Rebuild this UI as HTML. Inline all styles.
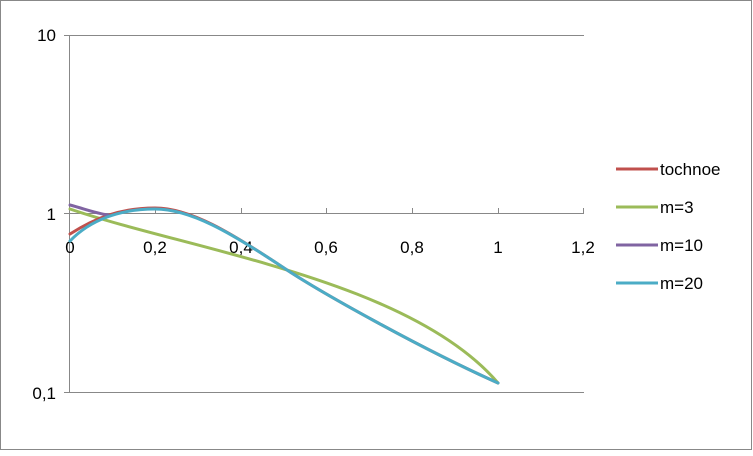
<!DOCTYPE html>
<html><head><style>body{margin:0;background:#fff}</style></head><body>
<svg width="753" height="451" xmlns="http://www.w3.org/2000/svg" font-family="Liberation Sans, sans-serif" font-size="16">
<rect x="0.5" y="0.5" width="751" height="449" fill="#fff" stroke="#888" stroke-width="1"/>
<g stroke="#888" stroke-width="1">
<line x1="70" y1="35.5" x2="584" y2="35.5"/>
<line x1="70" y1="392.5" x2="584" y2="392.5"/>
<line x1="69.5" y1="35" x2="69.5" y2="393"/>
<line x1="64" y1="35.5" x2="70" y2="35.5"/>
<line x1="64" y1="392.5" x2="70" y2="392.5"/>
<line x1="64" y1="213.5" x2="584" y2="213.5"/>
<line x1="155.5" y1="208" x2="155.5" y2="214"/>
<line x1="241.5" y1="208" x2="241.5" y2="214"/>
<line x1="326.5" y1="208" x2="326.5" y2="214"/>
<line x1="412.5" y1="208" x2="412.5" y2="214"/>
<line x1="498.5" y1="208" x2="498.5" y2="214"/>
<line x1="583.5" y1="208" x2="583.5" y2="214"/>
</g>
<g fill="#000" text-anchor="end" font-size="17">
<text x="56" y="41">10</text>
<text x="56" y="220">1</text>
<text x="56" y="399">0,1</text>
</g>
<g fill="#000" text-anchor="middle" font-size="17">
<text x="70" y="253">0</text>
<text x="155" y="253">0,2</text>
<text x="241" y="253">0,4</text>
<text x="326" y="253">0,6</text>
<text x="412" y="253">0,8</text>
<text x="498" y="253">1</text>
<text x="583" y="253">1,2</text>
</g>
<g fill="none" stroke-width="3" stroke-linecap="round" stroke-linejoin="round">
<path stroke="#9bbb59" d="M70,209 C190,250 410,280 498,383"/>
<path stroke="#c0504d" d="M70,234 C95,218 120,208 155,208 C190,208 230,232 284,268 C320,292 420,348 498,383"/>
<path stroke="#8064a2" d="M70,205 C85,209 95,213 108,215"/>
<path stroke="#4bacc6" d="M70,241 C90,220 120,209 155,209 C190,209 230,232 284,268 C320,292 420,348 498,383"/>
</g>
<g stroke-width="3">
<line x1="616" y1="169" x2="658" y2="169" stroke="#c0504d"/>
<line x1="616" y1="207" x2="658" y2="207" stroke="#9bbb59"/>
<line x1="616" y1="245" x2="658" y2="245" stroke="#8064a2"/>
<line x1="616" y1="283" x2="658" y2="283" stroke="#4bacc6"/>
</g>
<g fill="#000" font-size="17">
<text x="660" y="175">tochnoe</text>
<text x="660" y="213">m=3</text>
<text x="660" y="251">m=10</text>
<text x="660" y="289">m=20</text>
</g>
</svg>
</body></html>
